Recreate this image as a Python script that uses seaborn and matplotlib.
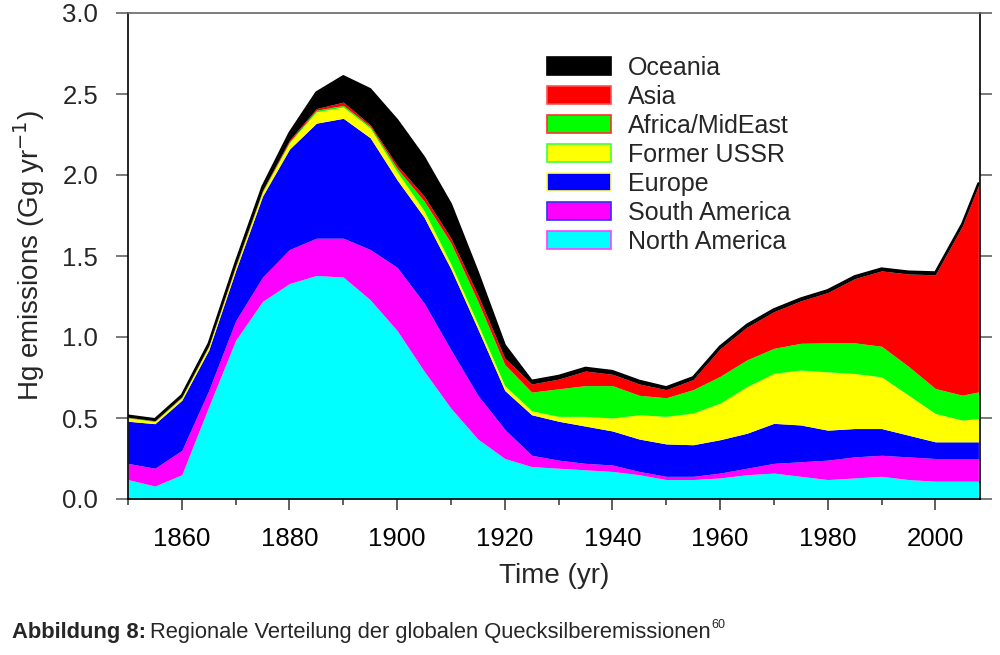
import numpy as np
import matplotlib
matplotlib.use("Agg")
import matplotlib.pyplot as plt
import seaborn as sns
from matplotlib.patches import Patch
from matplotlib.ticker import MultipleLocator

# ---------------- data (Gg/yr) ----------------
years = [1850, 1855, 1860, 1865, 1870, 1875, 1880, 1885, 1890, 1895,
         1900, 1905, 1910, 1915, 1920, 1925, 1930, 1935, 1940, 1945,
         1950, 1955, 1960, 1965, 1970, 1975, 1980, 1985, 1990, 1995,
         2000, 2005, 2008]

north_america = [0.12, 0.08, 0.15, 0.57, 0.98, 1.22, 1.33, 1.38, 1.37, 1.23,
                 1.04, 0.79, 0.56, 0.37, 0.25, 0.20, 0.19, 0.18, 0.17, 0.15,
                 0.12, 0.12, 0.13, 0.15, 0.16, 0.14, 0.12, 0.13, 0.14, 0.12,
                 0.11, 0.11, 0.11]
south_america = [0.10, 0.11, 0.15, 0.10, 0.12, 0.15, 0.21, 0.23, 0.24, 0.31,
                 0.39, 0.42, 0.36, 0.27, 0.18, 0.07, 0.05, 0.04, 0.04, 0.02,
                 0.02, 0.02, 0.03, 0.04, 0.06, 0.09, 0.12, 0.13, 0.13, 0.14,
                 0.14, 0.14, 0.14]
europe = [0.26, 0.275, 0.31, 0.25, 0.31, 0.50, 0.62, 0.71, 0.74, 0.69,
          0.54, 0.53, 0.50, 0.41, 0.24, 0.25, 0.24, 0.23, 0.21, 0.20,
          0.20, 0.195, 0.206, 0.216, 0.247, 0.227, 0.185, 0.175, 0.165, 0.134,
          0.103, 0.103, 0.103]
former_ussr = [0.02, 0.013, 0.015, 0.02, 0.02, 0.025, 0.04, 0.07, 0.07, 0.06,
               0.05, 0.04, 0.03, 0.03, 0.03, 0.025, 0.03, 0.06, 0.08, 0.15,
               0.17, 0.196, 0.226, 0.288, 0.309, 0.339, 0.36, 0.34, 0.319, 0.247,
               0.175, 0.134, 0.144]
africa_mideast = [0.003, 0.003, 0.003, 0.003, 0.004, 0.005, 0.005, 0.01, 0.01, 0.01,
                  0.02, 0.06, 0.13, 0.14, 0.13, 0.115, 0.17, 0.19, 0.20, 0.12,
                  0.115, 0.144, 0.165, 0.165, 0.154, 0.165, 0.179, 0.189, 0.189, 0.178,
                  0.154, 0.154, 0.164]
asia = [0.002, 0.002, 0.003, 0.003, 0.007, 0.005, 0.01, 0.01, 0.02, 0.01,
        0.02, 0.03, 0.03, 0.04, 0.04, 0.05, 0.06, 0.09, 0.07, 0.07,
        0.05, 0.062, 0.17, 0.202, 0.226, 0.262, 0.31, 0.396, 0.465, 0.57,
        0.702, 1.043, 1.273]
oceania = [0.01, 0.01, 0.01, 0.015, 0.02, 0.025, 0.045, 0.10, 0.16, 0.22,
           0.28, 0.24, 0.21, 0.14, 0.08, 0.02, 0.02, 0.02, 0.02, 0.02,
           0.015, 0.015, 0.015, 0.015, 0.015, 0.015, 0.015, 0.015, 0.015, 0.015,
           0.015, 0.015, 0.015]

region_names = ["North America", "South America", "Europe", "Former USSR",
                "Africa/MidEast", "Asia", "Oceania"]
region_colors = ["#00FFFF", "#FF00FF", "#0000FF", "#FFFF00",
                 "#00FF00", "#FF0000", "#000000"]
legend_edges = ["#FF40FF", "#3030FF", "#FFFF60", "#40FF40",
                "#FF3030", "#FF5050", "#000000"]

# ---------------- style ----------------
sns.set_theme(style="ticks")
plt.rcParams['font.family'] = ['Liberation Sans', 'DejaVu Sans']
plt.rcParams['axes.edgecolor'] = 'black'
plt.rcParams['axes.linewidth'] = 1.2

fig = plt.figure(figsize=(10, 6.55), dpi=100)
ax = fig.add_axes([0.128, 1 - 499 / 655, 0.852, (499 - 13) / 655])

layers = [north_america, south_america, europe, former_ussr,
          africa_mideast, asia, oceania]
ax.stackplot(years, layers, colors=region_colors, linewidth=0)

total = np.sum(np.array(layers), axis=0)
sns.lineplot(x=years, y=total, ax=ax, color='black', linewidth=1.6)

ax.set_xlim(1850, 2008.3)
ax.set_ylim(0, 3.0)

ax.xaxis.set_major_locator(MultipleLocator(20))
ax.xaxis.set_minor_locator(MultipleLocator(10))
ax.yaxis.set_major_locator(MultipleLocator(0.5))
ax.yaxis.set_major_formatter(matplotlib.ticker.FormatStrFormatter('%.1f'))
ax.set_xticks(range(1860, 2001, 20))

ax.tick_params(axis='x', which='major', direction='out', length=8, width=1.1,
               color='#333333', labelsize=18.5, pad=12, colors='black')
ax.tick_params(axis='x', which='minor', direction='out', length=4.5, width=1.1,
               color='#333333')
ax.tick_params(axis='y', which='major', direction='out', length=8.6, width=1.1,
               color='#555555', labelsize=18.5, pad=13, left=True, right=True,
               labelright=False)
for s in ax.spines.values():
    s.set_visible(True)
    s.set_color('black')
ax.spines['top'].set_color('#666666')

ax.set_xlabel("Time (yr)", fontsize=20, labelpad=9)
ax.set_ylabel("Hg emissions (Gg yr$^{-1}$)", fontsize=20, labelpad=11)
ax.grid(False)

# legend (top to bottom order)
handles = [Patch(facecolor=c, edgecolor=e, linewidth=1.2, label=n)
           for n, c, e in zip(region_names, region_colors, legend_edges)][::-1]
leg = fig.legend(handles=handles, loc='upper left',
                 bbox_to_anchor=(0.547, 1 - 56 / 655), frameon=False,
                 fontsize=18, handlelength=2.55, handleheight=0.72,
                 handletextpad=0.68, labelspacing=0.2, borderpad=0,
                 borderaxespad=0)

# caption
fig.canvas.draw()
renderer = fig.canvas.get_renderer()
t1 = fig.text(12 / 1000, 1 - 638 / 655, "Abbildung 8:", fontsize=15.8,
              fontweight='bold', va='baseline', ha='left')
bb = t1.get_window_extent(renderer=renderer)
t2 = fig.text((bb.x1 + 4) / 1000, 1 - 638 / 655,
              "Regionale Verteilung der globalen Quecksilberemissionen",
              fontsize=15.8, va='baseline', ha='left')
bb2 = t2.get_window_extent(renderer=renderer)
fig.text((bb2.x1 + 1) / 1000, 1 - 628 / 655, "60", fontsize=9,
         va='baseline', ha='left')

fig.savefig("out.png", dpi=100)
